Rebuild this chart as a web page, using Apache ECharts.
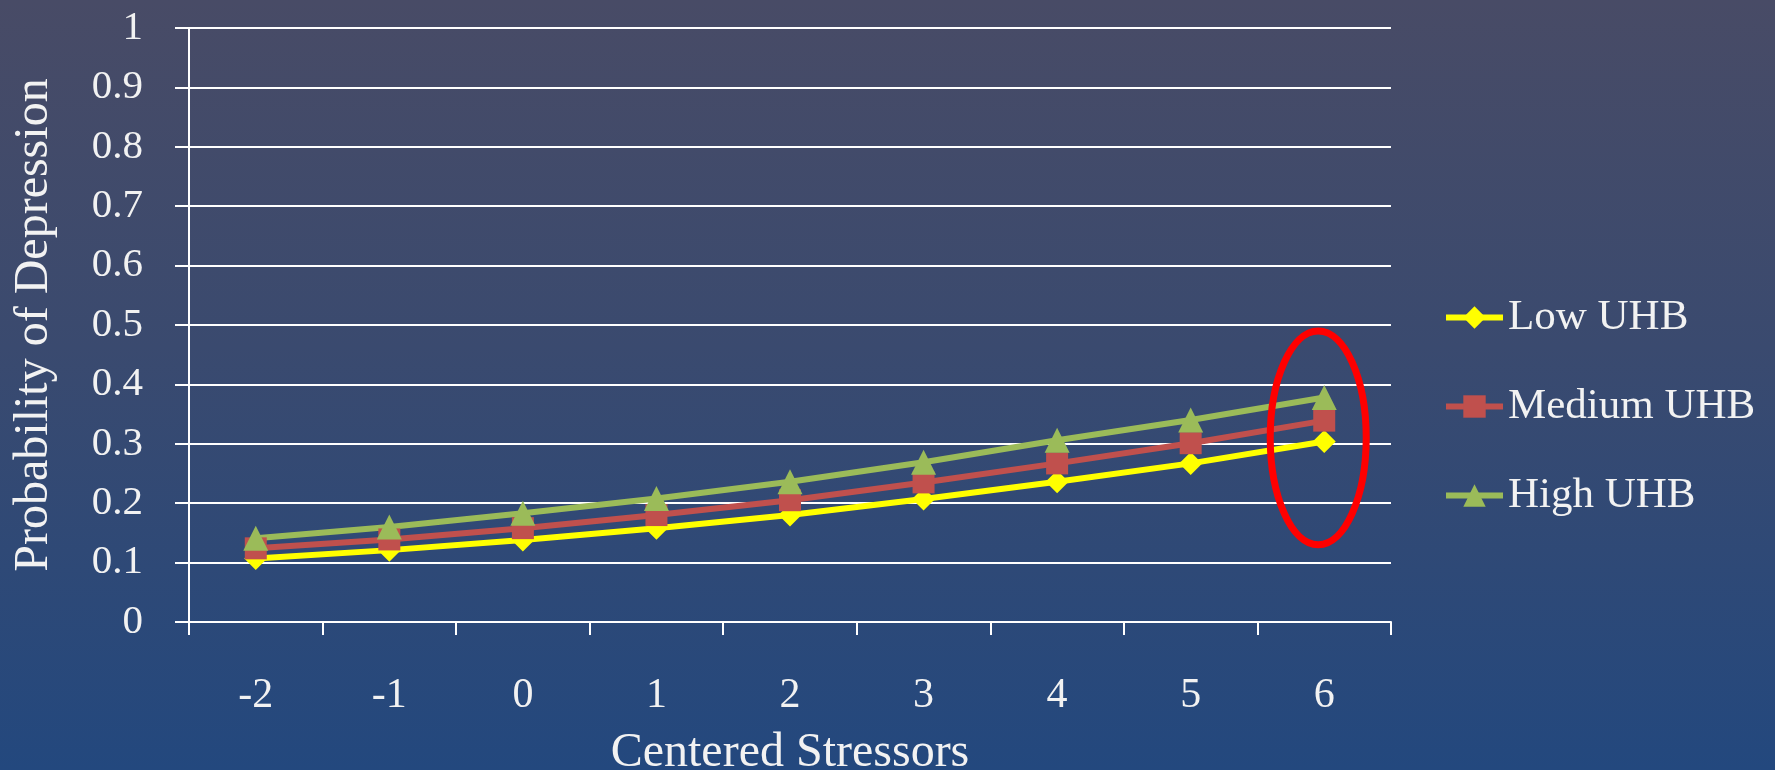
<!DOCTYPE html>
<html>
<head>
<meta charset="utf-8">
<title>Probability of Depression by Centered Stressors</title>
<script src="https://cdn.jsdelivr.net/npm/echarts@6/dist/echarts.min.js"></script>
<style>
  html, body { margin: 0; padding: 0; width: 1775px; height: 770px; overflow: hidden; }
  #chart { width: 1775px; height: 770px; }
</style>
</head>
<body>
<div id="chart"></div>
<script>
// Centered stressor levels on the x axis
const stressors = ['-2', '-1', '0', '1', '2', '3', '4', '5', '6'];

// Predicted probability of depression for each UHB group
const lowUHB    = [0.107, 0.121, 0.138, 0.158, 0.180, 0.207, 0.236, 0.267, 0.304];
const mediumUHB = [0.124, 0.139, 0.158, 0.180, 0.205, 0.235, 0.267, 0.301, 0.339];
const highUHB   = [0.141, 0.160, 0.183, 0.208, 0.236, 0.269, 0.306, 0.340, 0.378];

const seriesNames = ['Low UHB', 'Medium UHB', 'High UHB'];

const FONT = '"Liberation Serif", "Times New Roman", serif';
const TEXT = '#f2f2f2';

const chart = echarts.init(document.getElementById('chart'), null, { renderer: 'canvas' });

function lineSeries(name, data, color, symbol, size) {
  return {
    name: name,
    type: 'line',
    data: data,
    symbol: symbol,
    symbolSize: size,
    showAllSymbol: true,
    lineStyle: { color: color, width: 6 },
    itemStyle: { color: color },
    emphasis: { disabled: true },
    animation: false
  };
}

const option = {
  backgroundColor: new echarts.graphic.LinearGradient(0, 0, 0, 1, [
    { offset: 0, color: '#484b66' },
    { offset: 0.45, color: '#3a4a6f' },
    { offset: 1, color: '#23487e' }
  ]),
  // fixed plot rectangle; axis names may sit near the canvas edge
  grid: { left: 189, right: 384, top: 28, bottom: 148, outerBoundsMode: 'none', containLabel: false },
  legend: {
    orient: 'vertical',
    left: 1443,
    top: 296,
    padding: 0,
    itemWidth: 57,
    itemHeight: 28,
    itemGap: 46,
    data: seriesNames,
    lineStyle: { width: 6 },
    textStyle: { color: TEXT, fontFamily: FONT, fontSize: 43 }
  },
  xAxis: {
    type: 'category',
    data: stressors,
    boundaryGap: true,
    name: 'Centered Stressors',
    nameLocation: 'middle',
    nameGap: 107,
    nameTextStyle: { color: TEXT, fontFamily: FONT, fontSize: 48 },
    axisLine: { show: true, lineStyle: { color: '#ffffff', width: 2 } },
    axisTick: { show: true, length: 13, alignWithLabel: false, lineStyle: { color: '#ffffff', width: 2 } },
    axisLabel: { color: TEXT, fontFamily: FONT, fontSize: 42, margin: 53 },
    splitLine: { show: false }
  },
  yAxis: {
    type: 'value',
    min: 0,
    max: 1,
    interval: 0.1,
    name: 'Probability of Depression',
    nameLocation: 'middle',
    nameGap: 131,
    nameTextStyle: { color: TEXT, fontFamily: FONT, fontSize: 48 },
    axisLine: { show: true, lineStyle: { color: '#ffffff', width: 2 } },
    axisTick: { show: true, length: 14, lineStyle: { color: '#ffffff', width: 2 } },
    axisLabel: { color: TEXT, fontFamily: FONT, fontSize: 41, margin: 46 },
    splitLine: { show: true, lineStyle: { color: '#ffffff', width: 2 } }
  },
  series: [
    lineSeries(seriesNames[0], lowUHB, '#ffff00', 'diamond', 23),
    lineSeries(seriesNames[1], mediumUHB, '#c0504d', 'rect', 22),
    lineSeries(seriesNames[2], highUHB, '#9bbb59', 'triangle', 25)
  ],
  animation: false
};

chart.setOption(option);

// Red ellipse highlighting the values at the highest stressor level
const last = stressors.length - 1;
const mid = (lowUHB[last] + highUHB[last]) / 2;
const center = chart.convertToPixel({ gridIndex: 0 }, [stressors[last], mid]);
const bandTop = chart.convertToPixel({ gridIndex: 0 }, [stressors[last], 0.49])[1];
const bandBottom = chart.convertToPixel({ gridIndex: 0 }, [stressors[last], 0.13])[1];
chart.setOption({
  graphic: [{
    type: 'ellipse',
    shape: {
      cx: center[0] - 6,
      cy: (bandTop + bandBottom) / 2,
      rx: 48,
      ry: (bandBottom - bandTop) / 2
    },
    style: { fill: 'none', stroke: '#ff0000', lineWidth: 7 },
    z: 100,
    silent: true
  }]
});
</script>
</body>
</html>
